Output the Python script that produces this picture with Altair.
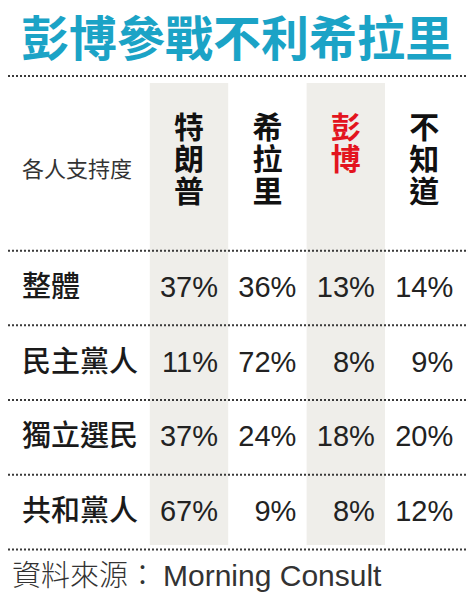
import altair as alt
import pandas as pd

# --- data ---
TITLE = "彭博參戰不利希拉里"
CORNER = "各人支持度"
SOURCE_LABEL = "資料來源："
SOURCE_NAME = "Morning Consult"
CANDIDATES = ["特朗普", "希拉里", "彭博", "不知道"]
GROUPS = ["整體", "民主黨人", "獨立選民", "共和黨人"]
TRUMP = [37, 11, 37, 67]
CLINTON = [36, 72, 24, 9]
BLOOMBERG = [13, 8, 18, 8]
DONT_KNOW = [14, 9, 20, 12]
SERIES = [TRUMP, CLINTON, BLOOMBERG, DONT_KNOW]

# --- layout ---
W, H = 459, 591
COL_STEP, ROW_STEP = 78.4, 74.7
COL0_X, ROW0_Y = 181, 280  # centre of first candidate column / first group row
CJK = "Noto Sans CJK TC"
LATIN = "Liberation Sans, Noto Sans CJK TC"


def px_row(y):
    # pixel y -> row units of the y scale
    return (y - ROW0_Y) / ROW_STEP


X_SCALE = alt.Scale(domain=[-COL0_X / COL_STEP, (W - COL0_X) / COL_STEP], nice=False, zero=False)
Y_SCALE = alt.Scale(domain=[px_row(0), px_row(H)], nice=False, zero=False, reverse=True)


def xq(field):
    return alt.X(field, type="quantitative", scale=X_SCALE, axis=None)


def yq(field):
    return alt.Y(field, type="quantitative", scale=Y_SCALE, axis=None)


def note(text, x, y, **style):
    # single free-standing text (title, corner label, source)
    return alt.Chart(pd.DataFrame({"t": [text]})).mark_text(baseline="middle", **style).encode(
        text="t:N", x=alt.value(x), y=alt.value(y)
    )


cells = pd.DataFrame(
    [{"col": c, "row": r, "label": f"{v}%"} for c, vals in enumerate(SERIES) for r, v in enumerate(vals)]
)
heads = pd.DataFrame(
    [
        {"col": c, "ch": ch, "y": px_row(121 + 32 * k), "red": name == "彭博"}
        for c, name in enumerate(CANDIDATES)
        for k, ch in enumerate(name)
    ]
)
groups = pd.DataFrame({"row": range(len(GROUPS)), "group": GROUPS})
shade = pd.DataFrame({"col": [0, 2]})
shade["x0"] = shade["col"] - 0.5
shade["x1"] = shade["col"] + 0.5
shade["y0"] = px_row(75)
shade["y1"] = px_row(537)
rules = pd.DataFrame({"y": [px_row(68), -0.5, 0.5, 1.5, 2.5, 3.5]})

# gray background of trump / bloomberg columns
bg = alt.Chart(shade).mark_rect(color="#efeeea").encode(
    x=xq("x0"), x2="x1", y=yq("y0"), y2="y1"
)

dots = alt.Chart(rules).mark_rule(color="#3a3a3a", strokeWidth=2, strokeDash=[2, 2]).encode(
    y=yq("y"), x=alt.value(0), x2=alt.value(W)
)

title = note(TITLE, 229, 34, font=CJK, fontSize=48, fontWeight="bold", color="#1ba3c6", align="center")
corner = note(CORNER, 14, 162, font=CJK, fontSize=22, color="#333", align="left")

head_text = alt.Chart(heads).mark_text(
    font=CJK, fontSize=30, fontWeight="bold", align="center", baseline="middle"
).encode(
    x=xq("col"),
    y=yq("y"),
    text="ch:N",
    color=alt.Color("red:N", scale=alt.Scale(domain=[False, True], range=["#111111", "#e3141e"]), legend=None),
)

group_text = alt.Chart(groups).mark_text(
    font=CJK, fontSize=29, fontWeight=500, color="#1a1a1a", align="left", baseline="middle"
).encode(y=yq("row"), x=alt.value(14), text="group:N")

value_text = alt.Chart(cells).mark_text(
    font=LATIN, fontSize=29, color="#222", align="right", baseline="middle", dx=29
).encode(x=xq("col"), y=yq("row"), text="label:N")

source_label = note(SOURCE_LABEL, 4, 569, font=CJK, fontSize=29, fontWeight=300, color="#333", align="left")
source_name = note(SOURCE_NAME, 155, 569, font=LATIN, fontSize=30, color="#333", align="left")

chart = (
    alt.layer(bg, dots, title, corner, head_text, group_text, value_text, source_label, source_name)
    .properties(width=W, height=H, padding=0, autosize="none", background="white")
    .configure_view(stroke=None)
)

chart.save("out.html", embed_options={"renderer": "svg", "actions": False})
